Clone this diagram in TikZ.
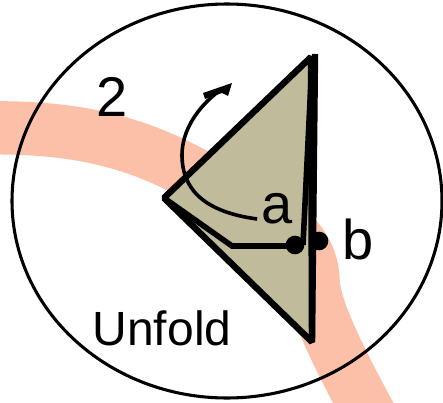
\documentclass[tikz,border=0pt]{standalone}
\usepackage{fontspec}
\setmainfont{Liberation Sans}
\usepackage{xcolor}
\definecolor{bandsalmon}{RGB}{252,192,168}
\definecolor{foldkhaki}{RGB}{192,187,154}

\begin{document}
\begin{tikzpicture}[
    x=0.75pt, y=-0.75pt,
    band/.style={line width=40pt, bandsalmon},
    outline/.style={draw, line width=4.8pt, line join=bevel},
    crease/.style={draw, line width=4.2pt, line join=miter},
    pin/.style={circle, fill=black, inner sep=0pt, minimum size=14pt},
    label/.style={font=\fontsize{42}{42}\selectfont, inner sep=0pt}
]
\clip (0, 0) rectangle (443, 403);

% strip behind the fold
\draw[band] (-20, 128) .. controls (70, 126) and (130, 140) .. (190, 172)
    .. controls (240, 197) and (312, 225) .. (313, 280)
    .. controls (314, 310) and (340, 360) .. (375, 425);
\draw[line width=2.3pt] (227, 201) ellipse (215 and 197);

\coordinate (apex) at (311, 57);
\coordinate (hinge) at (164, 198);
\coordinate (foot) at (312, 342);
\coordinate (elbow) at (232, 246);
\coordinate (top) at (315, 54);

\filldraw[outline, fill=foldkhaki] (hinge) -- (apex) -- (foot) -- cycle;
\node[pin] (pinb) at (319, 241) {};
\draw[line width=4.8pt] (top) -- (foot);
\draw[crease] (hinge) -- (elbow) -- (296, 246);
\draw[line width=4.2pt] (303, 245) -- (312, 60);
\node[pin] (pina) at (295, 245) {};

\node[label] (labela) at (277, 209) {a};
\node[label] (labelb) at (358, 239) {b};
\node[label] (labeltwo) at (112, 97) {2};
\node[label, font=\fontsize{36}{36}\selectfont] (unfold) at (162, 328) {Unfold};

% turning arrow
\draw[line width=2.7pt] (labela.west) ++(-4, 10) .. controls (205, 212) and (182, 190) .. (182, 155)
    .. controls (182, 130) and (198, 107) .. (219, 91);
\fill (203, 93) -- (232, 83) -- (228, 96) -- (222, 93) -- (205, 99) -- cycle;
\end{tikzpicture}
\end{document}
